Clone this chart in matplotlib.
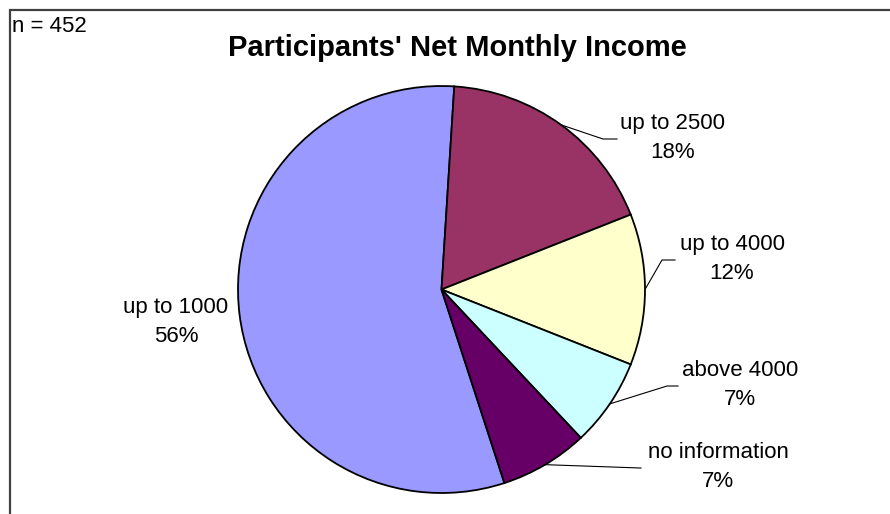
import matplotlib
matplotlib.use("Agg")
import matplotlib.pyplot as plt
import numpy as np

labels = ["up to 1000", "up to 2500", "up to 4000", "above 4000", "no information"]
percents = [56, 18, 12, 7, 7]
colors = ["#9999FF", "#993366", "#FFFFCC", "#CCFFFF", "#660066"]
sample_size = 452
title = "Participants' Net Monthly Income"

plt.rcParams['font.family'] = ['Liberation Sans', 'DejaVu Sans']

W, H = 890, 514
fig = plt.figure(figsize=(W / 100, H / 100), dpi=100)
ax = fig.add_axes([0, 0, 1, 1])

# pie placed in pixel space (y measured from the bottom)
cx, cy, r = 441.5, H - 289.5, 203.5
start = -72.0
wedges, _ = ax.pie(percents, colors=colors, startangle=start, counterclock=False,
                   center=(cx, cy), radius=r, frame=True,
                   wedgeprops=dict(edgecolor='black', linewidth=1.3))
ax.set_xlim(0, W)
ax.set_ylim(0, H)
ax.set_aspect('equal')
ax.axis('off')

# label centres and leader-line elbows, in image pixels (y from top)
label_pos = [(176, 322), (673, 138), (732, 259), (740, 385), (718, 467)]
elbows = [None, ((603, 139), (617, 139)), ((662, 260), (675, 260)),
          ((667, 386), (678, 386)), ((640, 468), (641, 468))]

for w, lab, pct, pos, elb in zip(wedges, labels, percents, label_pos, elbows):
    ax.text(pos[0], H - pos[1], f"{lab}\n{pct}%", ha='center', va='center',
            fontsize=16, linespacing=1.55, color='black')
    if elb is not None:
        mid = np.deg2rad((w.theta1 + w.theta2) / 2)
        x0 = cx + r * np.cos(mid)
        y0 = cy + r * np.sin(mid)
        xs = [x0] + [p[0] for p in elb]
        ys = [y0] + [H - p[1] for p in elb]
        ax.plot(xs, ys, color='black', linewidth=0.8, zorder=0.5)

ax.text(457, H - 48, title, ha='center', va='center', fontsize=21, fontweight='bold')
ax.text(12, H - 26, f"n = {sample_size}", ha='left', va='center', fontsize=16)

# chart border (only top and left edges are visible in the frame)
ax.plot([10, 10, W + 5], [-5, H - 10, H - 10], color='#404040', linewidth=1.6,
        clip_on=False, solid_joinstyle='miter')

fig.savefig("out.png", dpi=100, facecolor='white')
